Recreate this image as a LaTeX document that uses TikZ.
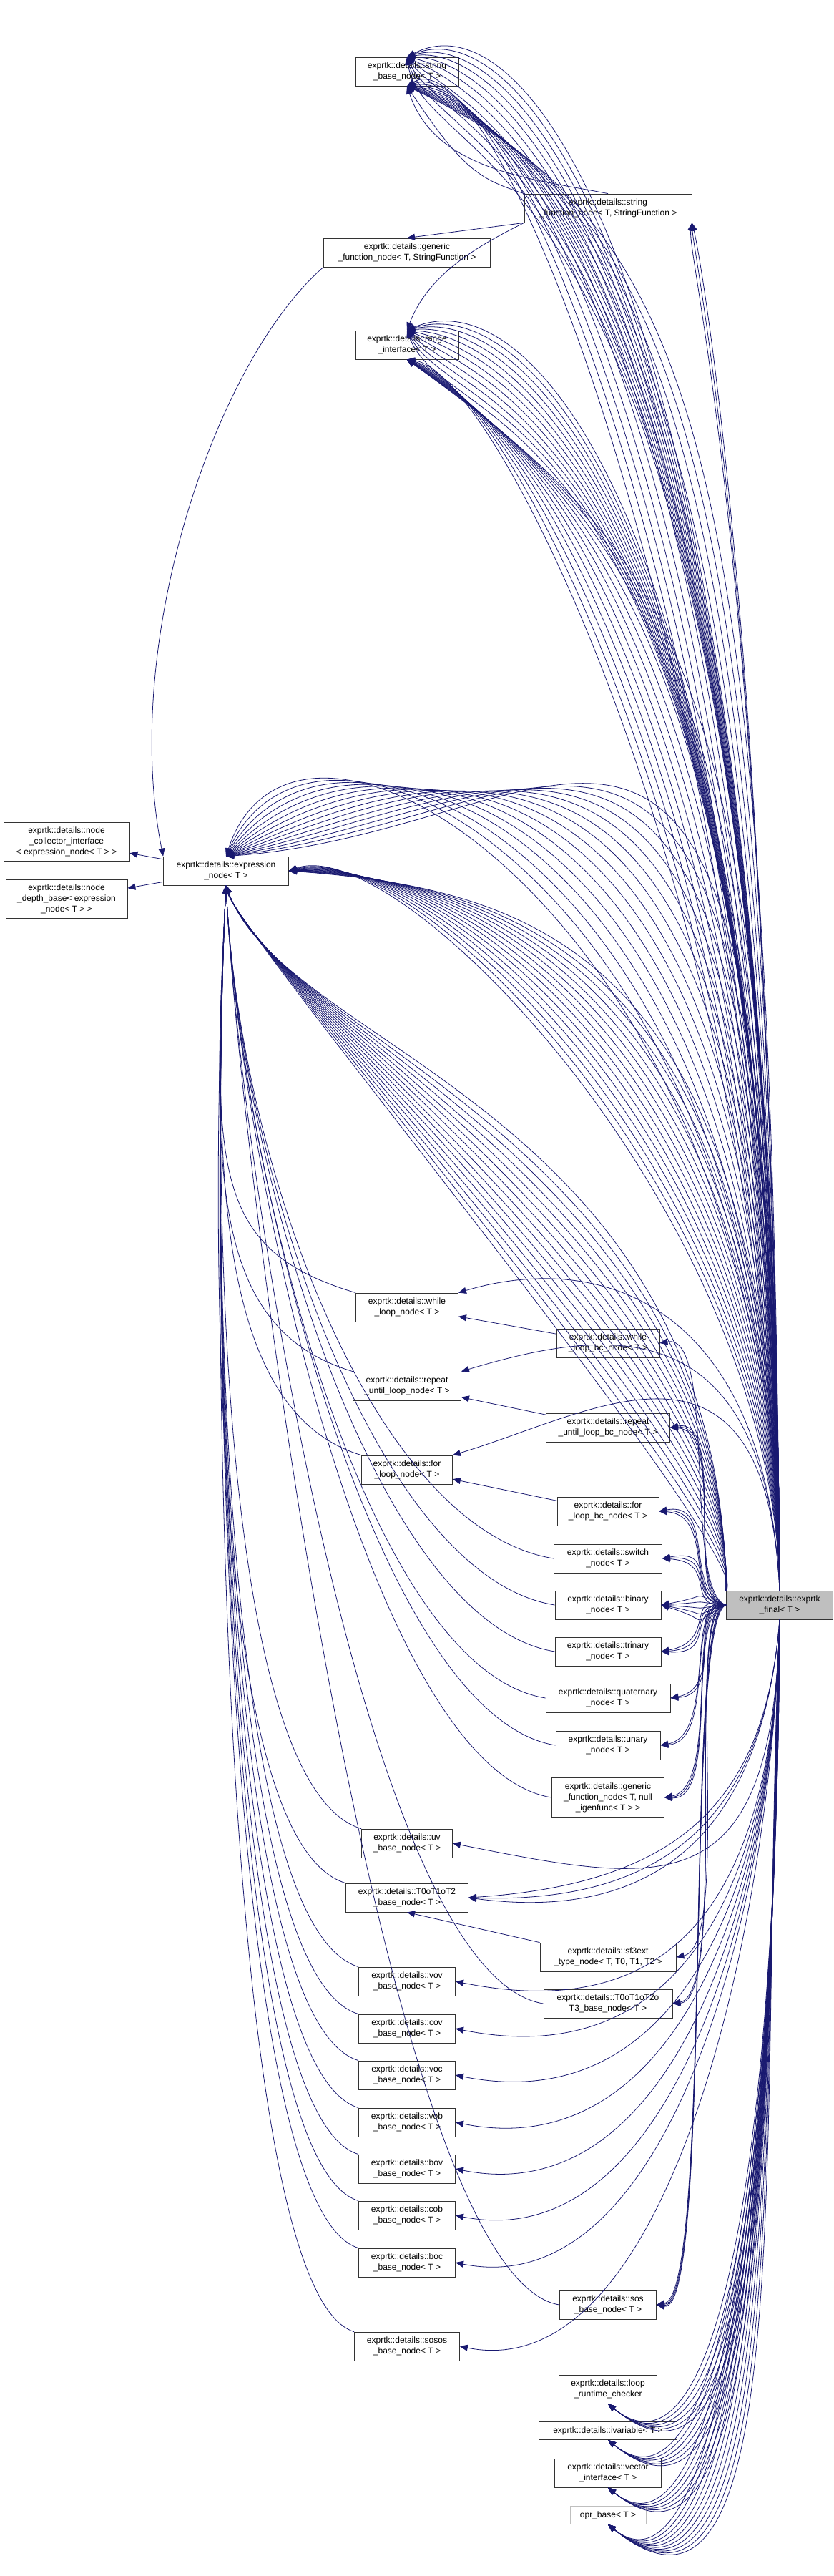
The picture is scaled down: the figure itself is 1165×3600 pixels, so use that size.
\documentclass[tikz,border=0pt]{standalone}
\usepackage{fontspec}
\setmainfont{Liberation Sans}
\usetikzlibrary{arrows.meta}
\definecolor{edgeblue}{RGB}{25,25,112}
\definecolor{finalgrey}{RGB}{191,191,191}
\tikzset{
  cls/.style={draw=black!80, fill=white, align=center, inner sep=2pt,
    font=\fontsize{12}{15}\selectfont, minimum height=40pt, line width=0.8pt},
  inh/.style={draw=edgeblue, line width=0.8pt, -{Triangle[length=11pt,width=9pt]}},
}
\begin{document}
\begin{tikzpicture}[x=1pt,y=-1pt]
\useasboundingbox (0,0) rectangle (1165,3600);
% classes
\node[cls, minimum width=144pt] (strbase) at (569,100) {exprtk::details::string\\\_base\_node< T >};
\node[cls, minimum width=234pt] (strfunc) at (850,291) {exprtk::details::string\\\_function\_node< T, StringFunction >};
\node[cls, minimum width=233pt] (genfunc) at (569,353) {exprtk::details::generic\\\_function\_node< T, StringFunction >};
\node[cls, minimum width=144pt] (range) at (569,482) {exprtk::details::range\\\_interface< T >};
\node[cls, minimum width=176pt, minimum height=54pt] (collector) at (93,1176) {exprtk::details::node\\\_collector\_interface\\< expression\_node< T > >};
\node[cls, minimum width=170pt, minimum height=54pt] (depth) at (93,1256) {exprtk::details::node\\\_depth\_base< expression\\\_node< T > >};
\node[cls, minimum width=175pt] (expr) at (316,1217) {exprtk::details::expression\\\_node< T >};
\node[cls, minimum width=143pt] (while) at (569,1827) {exprtk::details::while\\\_loop\_node< T >};
\node[cls, minimum width=144pt] (whilebc) at (850,1877) {exprtk::details::while\\\_loop\_bc\_node< T >};
\node[cls, minimum width=151pt] (repeat) at (569,1937) {exprtk::details::repeat\\\_until\_loop\_node< T >};
\node[cls, minimum width=173pt] (repeatbc) at (850,1995) {exprtk::details::repeat\\\_until\_loop\_bc\_node< T >};
\node[cls, minimum width=127pt] (for) at (569,2054) {exprtk::details::for\\\_loop\_node< T >};
\node[cls, minimum width=142pt] (forbc) at (850,2112) {exprtk::details::for\\\_loop\_bc\_node< T >};
\node[cls, minimum width=151pt] (switch) at (850,2178) {exprtk::details::switch\\\_node< T >};
\node[cls, minimum width=148pt] (binary) at (850,2243) {exprtk::details::binary\\\_node< T >};
\node[cls, minimum width=149pt, fill=finalgrey] (final) at (1090,2243) {exprtk::details::exprtk\\\_final< T >};
\node[cls, minimum width=148pt] (trinary) at (850,2308) {exprtk::details::trinary\\\_node< T >};
\node[cls, minimum width=174pt] (quaternary) at (850,2373) {exprtk::details::quaternary\\\_node< T >};
\node[cls, minimum width=146pt] (unary) at (850,2439) {exprtk::details::unary\\\_node< T >};
\node[cls, minimum width=157pt, minimum height=55pt] (gennull) at (850,2512) {exprtk::details::generic\\\_function\_node< T, null\\\_igenfunc< T > >};
\node[cls, minimum width=127pt] (uv) at (569,2576) {exprtk::details::uv\\\_base\_node< T >};
\node[cls, minimum width=171pt] (tthree) at (569,2652) {exprtk::details::T0oT1oT2\\\_base\_node< T >};
\node[cls, minimum width=190pt] (sfext) at (850,2735) {exprtk::details::sf3ext\\\_type\_node< T, T0, T1, T2 >};
\node[cls, minimum width=180pt] (tfour) at (850,2800) {exprtk::details::T0oT1oT2o\\T3\_base\_node< T >};
\node[cls, minimum width=135pt] (vov) at (569,2769) {exprtk::details::vov\\\_base\_node< T >};
\node[cls, minimum width=135pt] (cov) at (569,2835) {exprtk::details::cov\\\_base\_node< T >};
\node[cls, minimum width=135pt] (voc) at (569,2900) {exprtk::details::voc\\\_base\_node< T >};
\node[cls, minimum width=135pt] (vob) at (569,2966) {exprtk::details::vob\\\_base\_node< T >};
\node[cls, minimum width=135pt] (bov) at (569,3031) {exprtk::details::bov\\\_base\_node< T >};
\node[cls, minimum width=135pt] (cob) at (569,3096) {exprtk::details::cob\\\_base\_node< T >};
\node[cls, minimum width=135pt] (boc) at (569,3162) {exprtk::details::boc\\\_base\_node< T >};
\node[cls, minimum width=135pt] (sos) at (850,3221) {exprtk::details::sos\\\_base\_node< T >};
\node[cls, minimum width=147pt] (sosos) at (569,3279) {exprtk::details::sosos\\\_base\_node< T >};
\node[cls, minimum width=137pt] (loop) at (850,3339) {exprtk::details::loop\\\_runtime\_checker};
\node[cls, minimum width=193pt, minimum height=25pt] (ivar) at (850,3397) {exprtk::details::ivariable< T >};
\node[cls, minimum width=149pt] (vecif) at (850,3456) {exprtk::details::vector\\\_interface< T >};
\node[cls, minimum width=106pt, minimum height=25pt, draw=black!25] (opr) at (850,3515) {opr\_base< T >};
% expression_node bases
\draw[inh] (expr) -- (collector);
\draw[inh] (expr) -- (depth);
% string and range interfaces
\draw[inh] (strfunc.north west) .. controls +(-60,-20) and +(80,120) .. (strbase.south);
\draw[inh] (strfunc.north) .. controls +(-100,-20) and +(40,120) .. (strbase.south);
\draw[inh] (strfunc.south west) -- (genfunc.north);
\draw[inh] (strfunc.south west) .. controls +(-60,30) and +(30,-80) .. (range.north);
\draw[inh] (genfunc.south west) .. controls +(-150,130) and +(-60,-300) .. (expr.north west);
\foreach \i in {0,...,11} {
  \draw[inh] (final.north) .. controls (1082,500-\i*30) and (760-\i*15,-20+\i*25) .. (strbase.north);
  \draw[inh] (final.north) .. controls (1078,1000-\i*35) and (700+\i*25,40+\i*25) .. (strbase.south);
  \draw[inh] (final.north) .. controls (1080,800-\i*25) and (760-\i*12,380+\i*22) .. (range.north);
  \draw[inh] (final.north) .. controls (1076,1300-\i*30) and (700+\i*25,520+\i*25) .. (range.south);
}
\foreach \i in {0,1,2} \draw[inh] (final.north) .. controls (1078,800+\i*60) and (960+\i*10,360) .. (strfunc.south east);
% expression_node derived
\foreach \i in {0,...,14} {
  \draw[inh] (final.north) .. controls (1084,1300-\i*45) and (420+\i*30,880+\i*20) .. (expr.north);
  \draw[inh] (final.north) .. controls (1082,1700-\i*25) and (560+\i*15,1160+\i*6) .. (expr.east);
  \draw[inh] (final.north west) .. controls (1060-\i*4,2180-\i*45) and (330+\i*5,1300+\i*12) .. (expr.south);
}
\foreach \n in {while, repeat, for, uv, tthree, vov, cov, voc, vob, bov, cob, boc, sosos}
  \draw[inh] (\n.north west) .. controls +(-200,-60) and +(-20,400) .. (expr.south);
\foreach \n in {switch, binary, trinary, quaternary, unary, gennull, tfour, sos}
  \draw[inh] (\n.west) .. controls +(-250,-40) and +(20,400) .. (expr.south);
% loop nodes
\draw[inh] (whilebc) -- (while);
\draw[inh] (repeatbc) -- (repeat);
\draw[inh] (forbc) -- (for);
\draw[inh] (sfext.north west) -- (tthree.south);
\foreach \n in {while, repeat, for}
  \draw[inh] (final.north) .. controls +(-20,-400) and +(200,-60) .. (\n.north east);
% direct bases of exprtk_final
\foreach \n/\k in {whilebc/1, repeatbc/3, forbc/3, switch/3, binary/5, trinary/3, quaternary/2, unary/2, gennull/3, sfext/1, tfour/2, sos/4}
  \foreach \i in {1,...,\k}
    \draw[inh] (final.west) .. controls +(-60,\i*12-30) and +(80,\i*10-25) .. (\n.east);
\foreach \n in {uv, vov, cov, voc, vob, bov, cob, boc, sosos}
  \draw[inh] (final.south) .. controls +(-10,400) and +(300,60) .. (\n.east);
\foreach \i in {0,1,2} \draw[inh] (final.south) .. controls +(-20,250) and +(300,\i*30-20) .. (tthree.east);
\foreach \n/\k in {loop/6, ivar/6, vecif/6, opr/10}
  \foreach \i in {1,...,\k}
    \draw[inh] (final.south) .. controls +(-\i*3,700) and +(150+\i*12,120+\i*10) .. (\n.south);
\end{tikzpicture}
\end{document}
